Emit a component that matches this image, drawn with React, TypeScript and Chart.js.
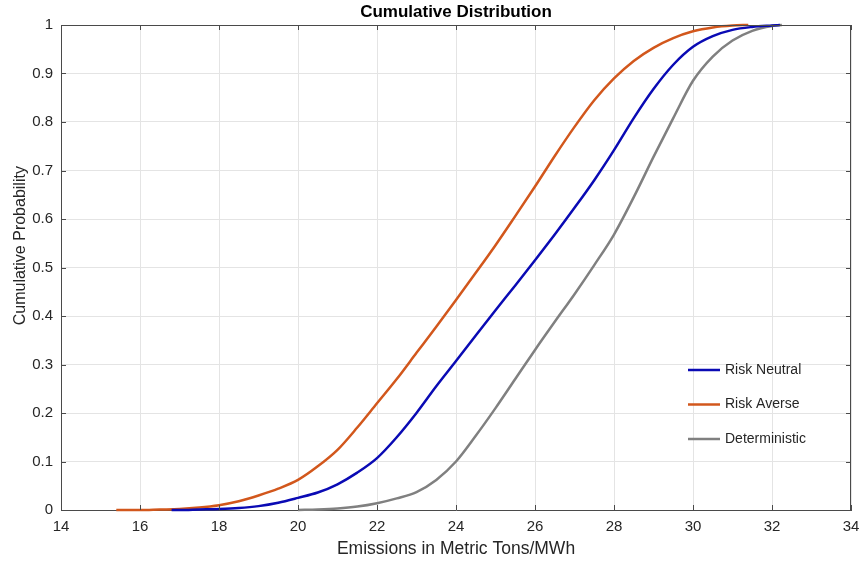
import React, { useEffect, useRef } from "react";
import { Chart, registerables } from "chart.js";

Chart.register(...registerables);

const xTickValues = [14, 16, 18, 20, 22, 24, 26, 28, 30, 32, 34];
const yTickValues = [0, 0.1, 0.2, 0.3, 0.4, 0.5, 0.6, 0.7, 0.8, 0.9, 1];

const neutralX = [16.8, 17, 17.5, 18, 18.5, 19, 19.5, 20, 20.5, 21, 21.5, 22, 22.5, 23, 23.5, 24, 24.5, 25, 25.5, 26, 26.5, 27, 27.5, 28, 28.5, 29, 29.5, 30, 30.5, 31, 31.5, 32, 32.2];
const neutralY = [0, 0, 0.001, 0.002, 0.004, 0.008, 0.015, 0.025, 0.036, 0.053, 0.077, 0.107, 0.15, 0.2, 0.255, 0.307, 0.36, 0.412, 0.463, 0.515, 0.568, 0.623, 0.68, 0.742, 0.808, 0.868, 0.918, 0.955, 0.977, 0.99, 0.996, 0.999, 1];

const averseX = [15.4, 16, 16.5, 17, 17.5, 18, 18.5, 19, 19.5, 20, 20.5, 21, 21.5, 22, 22.5, 23, 23.5, 24, 24.5, 25, 25.5, 26, 26.5, 27, 27.5, 28, 28.5, 29, 29.5, 30, 30.5, 31, 31.4];
const averseY = [0, 0, 0.001, 0.002, 0.005, 0.01, 0.018, 0.03, 0.044, 0.062, 0.09, 0.124, 0.17, 0.22, 0.27, 0.324, 0.378, 0.433, 0.489, 0.546, 0.606, 0.667, 0.73, 0.79, 0.845, 0.89, 0.926, 0.953, 0.973, 0.987, 0.995, 0.999, 1];

const deterministicX = [20, 20.5, 21, 21.5, 22, 22.5, 23, 23.5, 24, 24.5, 25, 25.5, 26, 26.5, 27, 27.5, 28, 28.5, 29, 29.5, 30, 30.5, 31, 31.5, 32, 32.25];
const deterministicY = [0, 0.001, 0.003, 0.007, 0.014, 0.024, 0.037, 0.062, 0.1, 0.153, 0.21, 0.27, 0.33, 0.388, 0.445, 0.505, 0.568, 0.645, 0.728, 0.808, 0.885, 0.935, 0.968, 0.988, 0.998, 1];

const seriesLabels = ["Risk Neutral", "Risk Averse", "Deterministic"];
const seriesColors = ["#0a0ab4", "#d2571c", "#808080"];

const titleText = "Cumulative Distribution";
const xTitleText = "Emissions in Metric Tons/MWh";
const yTitleText = "Cumulative Probability";

const FONT = "'Liberation Sans', Arial, Helvetica, sans-serif";
const TEXT = "#262626";
const AXIS = "#4a4a4a";

const toPoints = (xs: number[], ys: number[]) => xs.map((x, i) => ({ x, y: ys[i] }));

const boxPlugin = {
  id: "matlabBox",
  afterDraw(chart: any) {
    const { ctx, chartArea, scales } = chart;
    const { left, right, top, bottom } = chartArea;
    ctx.save();
    ctx.strokeStyle = AXIS;
    ctx.lineWidth = 1;
    ctx.beginPath();
    ctx.moveTo(left, top + 0.5);
    ctx.lineTo(right, top + 0.5);
    ctx.moveTo(right - 0.5, top);
    ctx.lineTo(right - 0.5, bottom);
    const tl = 5;
    xTickValues.forEach((v) => {
      const px = Math.round(scales.x.getPixelForValue(v)) + 0.5;
      ctx.moveTo(px, bottom);
      ctx.lineTo(px, bottom - tl);
      ctx.moveTo(px, top);
      ctx.lineTo(px, top + tl);
    });
    yTickValues.forEach((v) => {
      const py = Math.round(scales.y.getPixelForValue(v)) + 0.5;
      ctx.moveTo(left, py);
      ctx.lineTo(left + tl, py);
      ctx.moveTo(right, py);
      ctx.lineTo(right - tl, py);
    });
    ctx.stroke();

    // y-axis title (placed slightly above centre, as in the original figure)
    ctx.save();
    ctx.translate(21, top + (bottom - top) * 0.455);
    ctx.rotate(-Math.PI / 2);
    ctx.font = `16px ${FONT}`;
    ctx.fillStyle = TEXT;
    ctx.textAlign = "center";
    ctx.textBaseline = "middle";
    ctx.fillText(yTitleText, 0, 0);
    ctx.restore();

    // legend inside bottom-right
    ctx.font = `14px ${FONT}`;
    ctx.textBaseline = "middle";
    ctx.textAlign = "left";
    chart.data.datasets.forEach((ds: any, i: number) => {
      const y = bottom - 140 + i * 34.5;
      const x0 = right - 163;
      ctx.strokeStyle = ds.borderColor;
      ctx.lineWidth = 2.5;
      ctx.beginPath();
      ctx.moveTo(x0, y);
      ctx.lineTo(x0 + 32, y);
      ctx.stroke();
      ctx.fillStyle = TEXT;
      ctx.fillText(ds.label, x0 + 37, y);
    });
    ctx.restore();
  },
};

export default function App() {
  const ref = useRef<HTMLCanvasElement | null>(null);

  useEffect(() => {
    document.body.style.margin = "0";
    const canvas = ref.current;
    if (!canvas) return;
    const xsList = [neutralX, averseX, deterministicX];
    const ysList = [neutralY, averseY, deterministicY];
    const chart = new Chart(canvas, {
      type: "scatter",
      data: {
        datasets: seriesLabels.map((label, i) => ({
          label,
          data: toPoints(xsList[i], ysList[i]),
          showLine: true,
          borderColor: seriesColors[i],
          backgroundColor: seriesColors[i],
          borderWidth: 2.5,
          pointRadius: 0,
          pointHoverRadius: 0,
          cubicInterpolationMode: "monotone",
          clip: 5,
        })),
      },
      options: {
        animation: false,
        responsive: false,
        maintainAspectRatio: false,
        layout: { padding: { left: 0, right: 11, top: 0, bottom: 0 } },
        plugins: {
          legend: { display: false },
          tooltip: { enabled: false },
          title: {
            display: true,
            fullSize: false,
            text: titleText,
            color: "#000",
            font: { family: FONT, size: 17, weight: "bold" },
            padding: { top: 2, bottom: 2.6 },
          },
        },
        scales: {
          x: {
            type: "linear",
            min: 14,
            max: 34,
            afterBuildTicks: (s: any) => {
              s.ticks = xTickValues.map((v) => ({ value: v }));
            },
            afterFit: (s: any) => {
              s.height = 52;
              s.paddingLeft = 0;
              s.paddingRight = 0;
            },
            grid: { color: "#e4e4e4", drawTicks: false },
            border: { display: true, color: AXIS, width: 1 },
            ticks: { color: TEXT, padding: 8, font: { family: FONT, size: 15 }, maxRotation: 0 },
            title: {
              display: true,
              text: xTitleText,
              color: TEXT,
              font: { family: FONT, size: 17.5 },
              padding: { top: 0, bottom: 2.5 },
            },
          },
          y: {
            type: "linear",
            min: 0,
            max: 1,
            afterBuildTicks: (s: any) => {
              s.ticks = yTickValues.map((v) => ({ value: v }));
            },
            afterFit: (s: any) => {
              s.width = 61;
              s.paddingTop = 0;
              s.paddingBottom = 0;
            },
            grid: { color: "#e4e4e4", drawTicks: false },
            border: { display: true, color: AXIS, width: 1 },
            ticks: {
              color: TEXT,
              padding: 8,
              font: { family: FONT, size: 15 },
              callback: (v: any) => String(Math.round(Number(v) * 10) / 10),
            },
            title: { display: false },
          },
        },
      },
      plugins: [boxPlugin],
    } as any);
    return () => chart.destroy();
  }, []);

  return (
    <div style={{ position: "absolute", left: 0, top: 0, width: 862, height: 562, background: "#fff" }}>
      <canvas ref={ref} width={862} height={562} style={{ display: "block", width: 862, height: 562 }} />
    </div>
  );
}
